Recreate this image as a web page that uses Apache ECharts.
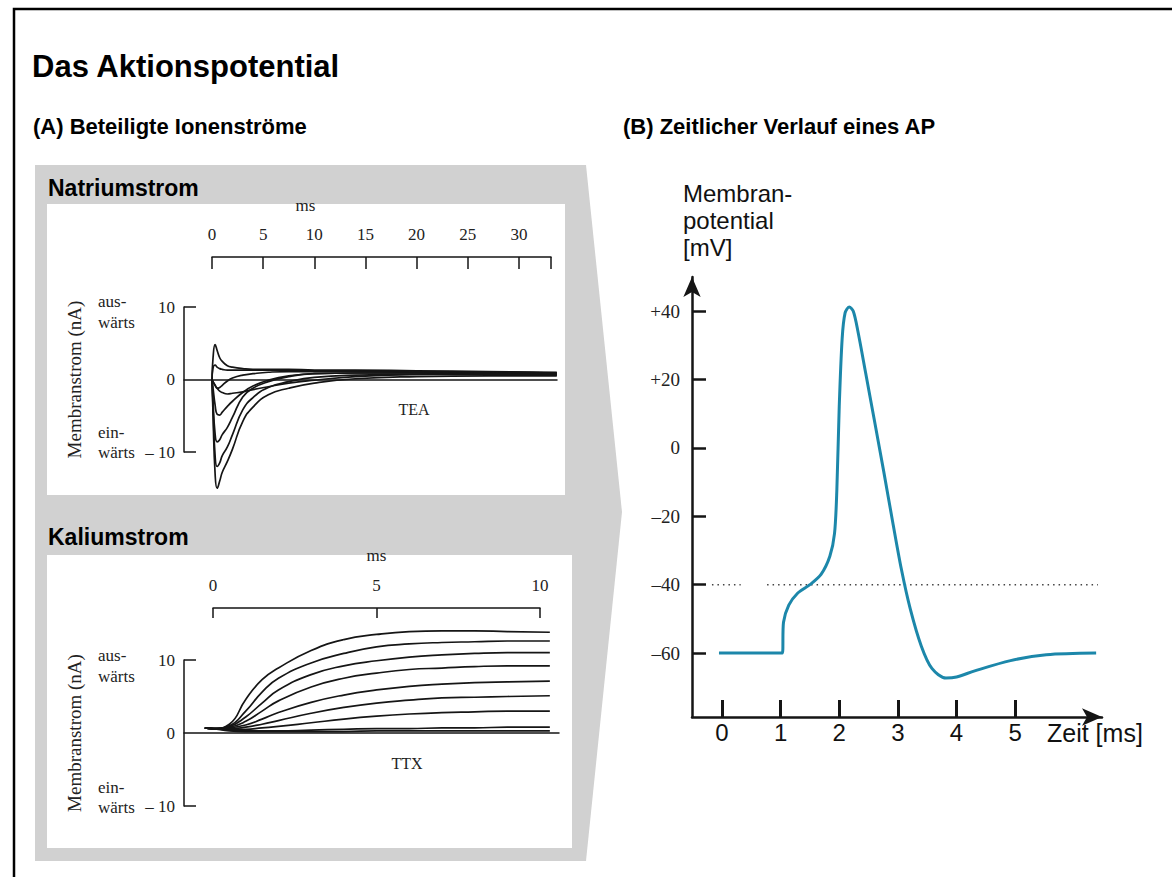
<!DOCTYPE html>
<html>
<head>
<meta charset="utf-8">
<script src="https://cdn.jsdelivr.net/npm/echarts@6/dist/echarts.min.js"></script>
<style>
html,body{margin:0;padding:0;background:#fff;}
#chart{width:1172px;height:877px;}
</style>
</head>
<body>
<div id="chart"></div>
<script>
// ---------- Data ----------
// (A) Natriumstrom (TEA): time in ms, current in nA
const naTime = [0, 0.1, 0.3, 0.5, 0.75, 1.0, 1.5, 2.0, 3.0, 4.0, 5.5, 7.5, 10, 14, 20, 27, 33.7];
const naTraceA = [0, 3.0, 4.8, 4.0, 3.0, 2.5, 1.9, 1.7, 1.5, 1.4, 1.4, 1.4, 1.3, 1.3, 1.2, 1.1, 1.0];
const naTraceB = [0, 1.6, 2.0, 1.7, 1.5, 1.4, 1.3, 1.3, 1.3, 1.3, 1.3, 1.3, 1.2, 1.2, 1.1, 1.0, 0.9];
const naTraceC = [0, -0.3, -0.8, -1.2, -1.1, -0.8, -0.2, 0.2, 0.6, 0.8, 1.0, 1.1, 1.1, 1.1, 1.0, 1.0, 0.9];
const naTraceD = [0, -0.3, -0.8, -1.2, -1.6, -1.8, -2.0, -1.9, -1.7, -1.4, -1.0, -0.5, -0.1, 0.4, 0.7, 0.8, 0.8];
const naTraceE = [0, -1.2, -3.5, -4.8, -4.9, -4.5, -3.7, -3.0, -1.8, -0.9, -0.1, 0.5, 0.8, 0.9, 0.9, 0.8, 0.7];
const naTraceF = [0, -3.0, -7.5, -8.6, -8.3, -7.6, -6.6, -5.2, -2.4, -1.2, -0.3, 0.4, 0.8, 0.9, 0.9, 0.8, 0.7];
const naTraceG = [0, -4.0, -10.5, -12.0, -11.5, -10.5, -9.3, -7.6, -4.2, -2.5, -1.1, -0.3, 0.3, 0.6, 0.7, 0.7, 0.6];
const naTraceH = [0, -5.0, -13.0, -15.0, -14.0, -12.8, -11.3, -9.6, -5.8, -3.8, -2.1, -1.2, -0.5, 0.1, 0.4, 0.5, 0.5];

// (A) Kaliumstrom (TTX): time in ms, current in nA
const kTime = [-0.25, 0, 0.5, 1, 1.5, 2, 3, 4, 5, 6, 7, 8, 9, 10.3];
const kTrace1 = [0.7, 0.6, 1.2, 4.6, 7.3, 8.9, 11.3, 12.8, 13.5, 13.9, 14.0, 14.0, 13.9, 13.8];
const kTrace2 = [0.7, 0.6, 1.0, 3.0, 5.6, 7.5, 9.6, 10.9, 11.8, 12.2, 12.4, 12.5, 12.6, 12.6];
const kTrace3 = [0.7, 0.6, 0.9, 2.2, 4.1, 5.9, 8.0, 9.2, 9.9, 10.4, 10.7, 10.9, 11.0, 11.0];
const kTrace4 = [0.7, 0.6, 0.8, 1.6, 3.0, 4.4, 6.3, 7.5, 8.2, 8.7, 8.9, 9.1, 9.2, 9.2];
const kTrace5 = [0.7, 0.6, 0.7, 1.1, 1.9, 2.8, 4.2, 5.2, 5.9, 6.4, 6.7, 6.9, 7.0, 7.1];
const kTrace6 = [0.7, 0.6, 0.6, 0.8, 1.2, 1.7, 2.7, 3.5, 4.1, 4.5, 4.8, 4.9, 5.0, 5.1];
const kTrace7 = [0.7, 0.6, 0.5, 0.5, 0.7, 0.9, 1.4, 1.9, 2.3, 2.6, 2.8, 2.9, 3.0, 3.0];
const kTrace8 = [0.7, 0.6, 0.4, 0.3, 0.3, 0.3, 0.4, 0.5, 0.6, 0.6, 0.7, 0.7, 0.8, 0.8];
const kTrace9 = [0.7, 0.6, 0.3, 0.2, 0.2, 0.2, 0.2, 0.2, 0.3, 0.3, 0.3, 0.3, 0.3, 0.3];

// (B) Aktionspotential: time in ms, membrane potential in mV
const apTime = [-0.05, 0.5, 1.03, 1.05, 1.14, 1.29, 1.5, 1.69, 1.84, 1.92, 1.96, 2.0, 2.05, 2.1, 2.17, 2.24, 2.32, 2.45, 2.6, 2.76, 2.91, 3.06, 3.21, 3.4, 3.58, 3.82, 4.0, 4.31, 4.92, 5.53, 6.38];
const apVoltage = [-60, -60, -60, -51, -46, -42.5, -40, -37, -31.7, -25, -12, 12, 32, 39.5, 41.2, 40, 34, 22, 8, -7, -21.5, -35.5, -47, -58, -64.5, -67.3, -67, -65.2, -62.2, -60.5, -60];
const thresholdValue = -40;
const thresholdStart = [-0.17, 0.77];
const thresholdEnd = [0.32, 6.41];

// Tick labels
const naTimeTicks = [0, 5, 10, 15, 20, 25, 30];
const kTimeTicks = [0, 5, 10];
const currentTicks = [-10, 0, 10];
const apTimeTicks = [0, 1, 2, 3, 4, 5];
const apVoltTicks = [-60, -40, -20, 0, 20, 40];

// ---------- Chart ----------
const SERIF = '"Liberation Serif", "Times New Roman", serif';
const SANS = '"Liberation Sans", Arial, sans-serif';
const INK = '#151515';

const zip = (xs, ys) => xs.map((x, i) => [x, ys[i]]);

function traceSeries(xs, ys, xi, yi) {
  return {
    type: 'line', xAxisIndex: xi, yAxisIndex: yi,
    data: zip(xs, ys), smooth: true, showSymbol: false, clip: false, silent: true,
    lineStyle: { color: INK, width: 1.7 }
  };
}

const chart = echarts.init(document.getElementById('chart'), null, { renderer: 'svg' });

const currentAxis = (gridIndex) => ({
  type: 'value', gridIndex, min: -10, max: 10,
  name: 'Membranstrom (nA)', nameLocation: 'middle', nameGap: 100, nameRotate: 90,
  nameTextStyle: { fontFamily: SERIF, fontSize: 19, color: '#222' },
  axisLine: { show: true, onZero: false, lineStyle: { color: INK, width: 1.5 } },
  axisTick: { show: true, inside: true, length: 12, customValues: [-10, 10], lineStyle: { color: INK, width: 1.5 } },
  axisLabel: { show: true, customValues: currentTicks, margin: 9, fontFamily: SERIF, fontSize: 17, color: '#222',
    formatter: v => v < 0 ? '\u2013 ' + (-v) : String(v) },
  splitLine: { show: false }
});

const zeroAxis = (gridIndex, min, max) => ({
  type: 'value', gridIndex, min, max,
  axisLine: { show: true, onZero: true, lineStyle: { color: INK, width: 1.5 } },
  axisTick: { show: false }, axisLabel: { show: false }, splitLine: { show: false }
});

const sideText = (x, y, t) => ({ type: 'text', x, y, style: { text: t, font: '17px ' + SERIF, fill: '#222', textVerticalAlign: 'middle' } });

const option = {
  animation: false,
  backgroundColor: '#fff',
  graphic: [
    { type: 'rect', shape: { x: 14, y: 9, width: 1200, height: 920 }, style: { fill: '#fff', stroke: '#000', lineWidth: 2.5 }, z: -10 },
    { type: 'polygon', shape: { points: [[35, 165], [586, 165], [622, 512], [586, 861], [35, 861]] }, style: { fill: '#d1d1d1' }, z: -9 },
    { type: 'rect', shape: { x: 47, y: 204, width: 518, height: 291 }, style: { fill: '#fff' }, z: -8 },
    { type: 'rect', shape: { x: 47, y: 555, width: 525, height: 293 }, style: { fill: '#fff' }, z: -8 },
    { type: 'text', x: 32, y: 66, style: { text: 'Das Aktionspotential', font: 'bold 31px ' + SANS, fill: '#000', textVerticalAlign: 'middle' } },
    { type: 'text', x: 33, y: 126, style: { text: '(A) Beteiligte Ionenströme', font: 'bold 22px ' + SANS, fill: '#000', textVerticalAlign: 'middle' } },
    { type: 'text', x: 623, y: 126, style: { text: '(B) Zeitlicher Verlauf eines AP', font: 'bold 22px ' + SANS, fill: '#000', textVerticalAlign: 'middle' } },
    { type: 'text', x: 48, y: 188, style: { text: 'Natriumstrom', font: 'bold 23px ' + SANS, fill: '#000', textVerticalAlign: 'middle' } },
    { type: 'text', x: 48, y: 537, style: { text: 'Kaliumstrom', font: 'bold 23px ' + SANS, fill: '#000', textVerticalAlign: 'middle' } },
    // Natrium side labels
    sideText(98, 301, 'aus-'),
    sideText(98, 322, 'wärts'),
    sideText(98, 432, 'ein-'),
    sideText(98, 452, 'wärts'),
    { type: 'text', x: 414, y: 409, style: { text: 'TEA', font: '16px ' + SERIF, fill: '#222', textAlign: 'center', textVerticalAlign: 'middle' } },
    // Kalium side labels
    sideText(98, 655, 'aus-'),
    sideText(98, 676, 'wärts'),
    sideText(98, 787, 'ein-'),
    sideText(98, 807, 'wärts'),
    { type: 'text', x: 407, y: 763, style: { text: 'TTX', font: '16px ' + SERIF, fill: '#222', textAlign: 'center', textVerticalAlign: 'middle' } },
    // (B) y-axis title
    { type: 'text', x: 683, y: 193, style: { text: 'Membran-', font: '24px ' + SANS, fill: '#111', textVerticalAlign: 'middle' } },
    { type: 'text', x: 683, y: 220, style: { text: 'potential', font: '24px ' + SANS, fill: '#111', textVerticalAlign: 'middle' } },
    { type: 'text', x: 683, y: 247, style: { text: '[mV]', font: '24px ' + SANS, fill: '#111', textVerticalAlign: 'middle' } }
  ],
  grid: [
    { left: 212, top: 247, width: 339, height: 10 },
    { left: 184, top: 307, width: 373, height: 145 },
    { left: 213, top: 599, width: 327, height: 9 },
    { left: 184, top: 660, width: 375, height: 146 },
    { left: 692, top: 277, width: 410, height: 440 }
  ],
  xAxis: [
    { type: 'value', gridIndex: 0, position: 'top', min: 0, max: 33.14, interval: 5,
      name: 'ms', nameLocation: 'middle', nameGap: 33,
      nameTextStyle: { fontFamily: SERIF, fontSize: 17, color: '#222', padding: [0, 152, 0, 0] },
      axisLine: { show: true, lineStyle: { color: INK, width: 1.5 } },
      axisTick: { show: true, inside: true, length: 12, lineStyle: { color: INK, width: 1.5 } },
      axisLabel: { show: true, margin: 4, fontFamily: SERIF, fontSize: 17, color: '#222',
        customValues: naTimeTicks },
      splitLine: { show: false } },
    zeroAxis(1, -2.74, 33.72),
    { type: 'value', gridIndex: 2, position: 'top', min: 0, max: 10, interval: 5,
      name: 'ms', nameLocation: 'middle', nameGap: 35,
      nameTextStyle: { fontFamily: SERIF, fontSize: 17, color: '#222' },
      axisLine: { show: true, lineStyle: { color: INK, width: 1.5 } },
      axisTick: { show: true, inside: true, length: 10, lineStyle: { color: INK, width: 1.5 } },
      axisLabel: { show: true, margin: 5, fontFamily: SERIF, fontSize: 17, color: '#222',
        customValues: kTimeTicks },
      splitLine: { show: false } },
    zeroAxis(3, -0.887, 10.58),
    { type: 'value', gridIndex: 4, min: -0.51, max: 6.48,
      name: 'Zeit [ms]', nameLocation: 'end', nameGap: -55,
      nameTextStyle: { fontFamily: SANS, fontSize: 25, color: '#111', align: 'left', verticalAlign: 'top', padding: [3, 0, 0, 0] },
      axisLine: { show: true, onZero: false, symbol: ['none', 'arrow'], symbolSize: [13, 20], lineStyle: { color: INK, width: 2.5 } },
      axisTick: { show: true, inside: true, length: 17, customValues: apTimeTicks, lineStyle: { color: INK, width: 3 } },
      axisLabel: { show: true, margin: 3, customValues: apTimeTicks, fontFamily: SANS, fontSize: 24, color: '#111' },
      splitLine: { show: false } }
  ],
  yAxis: [
    { type: 'value', gridIndex: 0, show: false, min: 0, max: 1 },
    currentAxis(1),
    { type: 'value', gridIndex: 2, show: false, min: 0, max: 1 },
    currentAxis(3),
    { type: 'value', gridIndex: 4, min: -78.7, max: 50,
      axisLine: { show: true, onZero: false, symbol: ['none', 'arrow'], symbolSize: [13, 20], lineStyle: { color: INK, width: 2.5 } },
      axisTick: { show: true, inside: true, length: 14, customValues: apVoltTicks, lineStyle: { color: INK, width: 2.5 } },
      axisLabel: { show: true, margin: 12, customValues: apVoltTicks, fontFamily: SERIF, fontSize: 19, color: '#222',
        formatter: v => v > 0 ? '+' + v : (v < 0 ? '\u2013' + (-v) : '0') },
      splitLine: { show: false } }
  ],
  series: [
    traceSeries(naTime, naTraceA, 1, 1),
    traceSeries(naTime, naTraceB, 1, 1),
    traceSeries(naTime, naTraceC, 1, 1),
    traceSeries(naTime, naTraceD, 1, 1),
    traceSeries(naTime, naTraceE, 1, 1),
    traceSeries(naTime, naTraceF, 1, 1),
    traceSeries(naTime, naTraceG, 1, 1),
    traceSeries(naTime, naTraceH, 1, 1),
    traceSeries(kTime, kTrace1, 3, 3),
    traceSeries(kTime, kTrace2, 3, 3),
    traceSeries(kTime, kTrace3, 3, 3),
    traceSeries(kTime, kTrace4, 3, 3),
    traceSeries(kTime, kTrace5, 3, 3),
    traceSeries(kTime, kTrace6, 3, 3),
    traceSeries(kTime, kTrace7, 3, 3),
    traceSeries(kTime, kTrace8, 3, 3),
    traceSeries(kTime, kTrace9, 3, 3),
    ...thresholdStart.map((s, i) => ({
      type: 'line', xAxisIndex: 4, yAxisIndex: 4, silent: true, showSymbol: false,
      data: [[s, thresholdValue], [thresholdEnd[i], thresholdValue]],
      lineStyle: { color: '#444', width: 1.5, type: [1.5, 4] }
    })),
    { type: 'line', xAxisIndex: 4, yAxisIndex: 4, data: zip(apTime, apVoltage),
      smooth: 0.3, showSymbol: false, silent: true, clip: false,
      lineStyle: { color: '#1c87aa', width: 3 } }
  ]
};
chart.setOption(option);
</script>
</body>
</html>
